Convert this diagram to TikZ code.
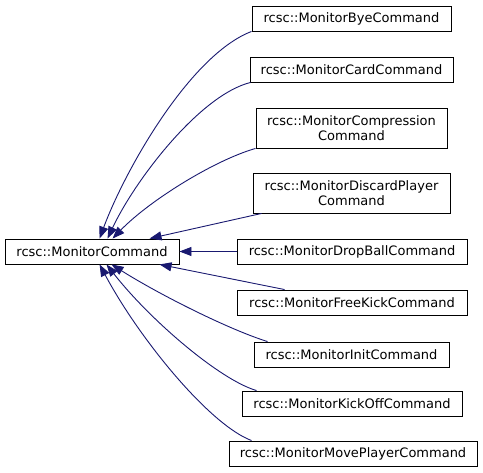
\documentclass[tikz,border=0pt]{standalone}
\usepackage{fontspec}
\setmainfont{DejaVu Sans}
\usetikzlibrary{arrows.meta}
\definecolor{edgeblue}{HTML}{191970}
\tikzset{
  cls/.style={draw=black, line width=0.9pt, fill=white, inner sep=0pt, align=center,
    font=\fontsize{13}{15}\selectfont, minimum height=25pt},
  cls2/.style={cls, minimum height=40pt},
  edge/.style={draw=edgeblue, line width=0.9pt, {Triangle[length=12pt,width=9pt]}-}
}
\begin{document}
\begin{tikzpicture}[x=1pt,y=-1pt]
\useasboundingbox (0,0) rectangle (483,473);
\node[cls, minimum width=174pt] (main) at (92,251.5) {rcsc::MonitorCommand};
\node[cls, minimum width=199pt] (bye) at (351.5,18.5) {rcsc::MonitorByeCommand};
\node[cls, minimum width=203pt] (card) at (351.5,69.5) {rcsc::MonitorCardCommand};
\node[cls2, minimum width=191pt] (comp) at (351.5,128) {rcsc::MonitorCompression\\Command};
\node[cls2, minimum width=197pt] (disc) at (351.5,193) {rcsc::MonitorDiscardPlayer\\Command};
\node[cls, minimum width=230pt] (drop) at (352,251.5) {rcsc::MonitorDropBallCommand};
\node[cls, minimum width=230pt] (free) at (352,302.5) {rcsc::MonitorFreeKickCommand};
\node[cls, minimum width=195pt] (init) at (351.5,354.5) {rcsc::MonitorInitCommand};
\node[cls, minimum width=220pt] (kick) at (352,403.5) {rcsc::MonitorKickOffCommand};
\node[cls, minimum width=248pt] (move) at (353,453.5) {rcsc::MonitorMovePlayerCommand};

\draw[edge] ([xshift=95pt]main.north west) .. controls (125,170) and (190,55) .. (bye.south west);
\draw[edge] ([xshift=103pt]main.north west) .. controls (135,180) and (200,95) .. ([xshift=1pt]card.south west);
\draw[edge] ([xshift=108pt]main.north west) .. controls (150,200) and (215,160) .. (comp.south west);
\draw[edge] ([xshift=145pt]main.north west) -- ([xshift=9pt]disc.south west);
\draw[edge] (main.east) -- (drop.west);
\draw[edge] ([xshift=155pt]main.south west) -- ([xshift=48pt]free.north west);
\draw[edge] ([xshift=107pt]main.south west) .. controls (160,295) and (230,330) .. ([xshift=14pt]init.north west);
\draw[edge] ([xshift=102pt]main.south west) .. controls (150,320) and (220,380) .. ([xshift=15pt]kick.north west);
\draw[edge] ([xshift=95pt]main.south west) .. controls (140,340) and (210,425) .. ([xshift=23pt]move.north west);
\end{tikzpicture}
\end{document}
